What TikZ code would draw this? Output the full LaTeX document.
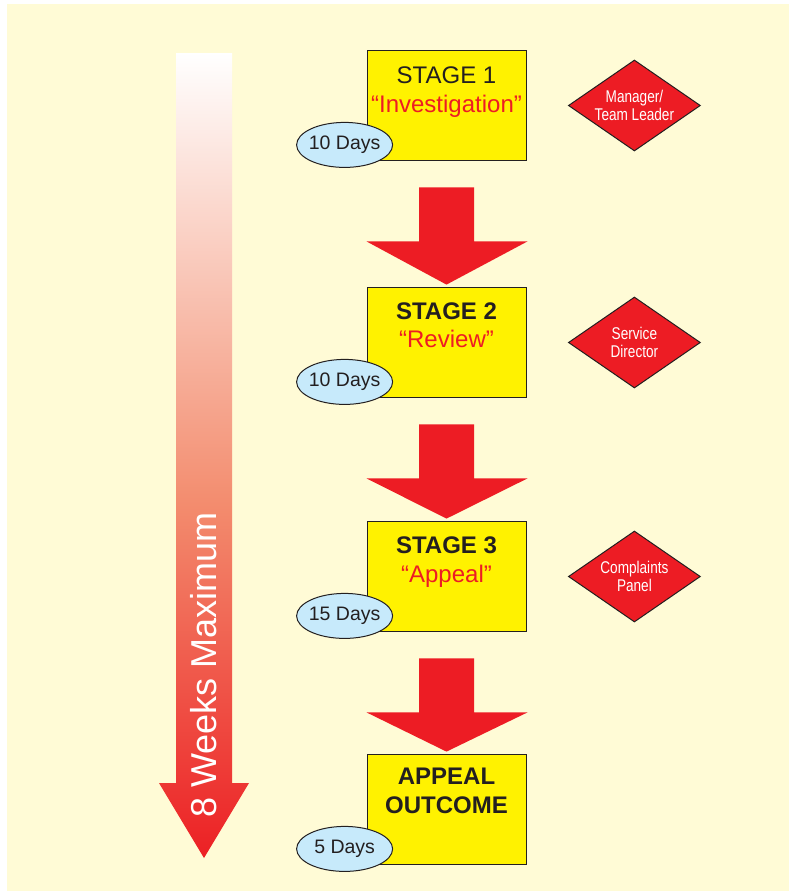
\documentclass[tikz,border=0pt]{standalone}
\usepackage{fontspec}
\setmainfont{Liberation Sans}
\newfontfamily\narrowfont[FakeStretch=0.8]{Liberation Sans}
\usetikzlibrary{shapes.geometric,calc}
\definecolor{bgcream}{RGB}{255,251,214}
\definecolor{boxyellow}{RGB}{255,242,0}
\definecolor{darkline}{RGB}{35,31,32}
\definecolor{redfill}{RGB}{237,28,36}
\definecolor{ovalblue}{RGB}{199,234,251}
\definecolor{gradmid}{RGB}{243,140,110}
\definecolor{gradred}{RGB}{236,32,36}
\pgfdeclareverticalshading{weekshade}{100bp}{color(0bp)=(gradred); color(25bp)=(gradred); color(47bp)=(gradmid); color(75bp)=(white); color(100bp)=(white)}
\begin{document}
\begin{tikzpicture}[x=1pt,y=-1pt,
  stagebox/.style={draw=darkline, line width=0.8pt, fill=boxyellow, minimum width=159pt, minimum height=110pt, inner sep=0pt},
  days/.style={ellipse, draw=darkline, line width=1pt, fill=ovalblue, minimum width=96pt, minimum height=45pt, inner sep=0pt},
  daystext/.style={inner sep=0pt, text=darkline, font=\fontsize{19.5}{22}\selectfont},
  role/.style={diamond, draw=darkline, line width=1pt, fill=redfill, minimum width=132pt, minimum height=91pt, inner sep=0pt},
  roletext/.style={text=white, align=center, inner sep=0pt, font=\narrowfont\fontsize{17}{18}\selectfont},
  stagetitle/.style={anchor=base, inner sep=0pt, text=darkline, font=\fontsize{24}{29}\selectfont},
  stagename/.style={anchor=base, inner sep=0pt, text=redfill, font=\fontsize{24}{29}\selectfont},
  blockarrow/.style={fill=redfill},
  weeks/.style={rotate=90, text=white, inner sep=0pt, font=\fontsize{36}{40}\selectfont}
]
\useasboundingbox (0,0) rectangle (789,892);
\fill[bgcream] (7,4) rectangle (789,891);

% timeline arrow
\shade[shading=weekshade] (176,53) -- (232,53) -- (232,783) -- (249,783) -- (204,858) -- (159,783) -- (176,783) -- cycle;
\node[weeks] (wk) at (204,665) {8 Weeks Maximum};

% stage boxes
\node[stagebox] (s1) at (446.5,105) {};
\node[stagebox] (s2) at (446.5,342) {};
\node[stagebox] (s3) at (446.5,576) {};
\node[stagebox] (s4) at (446.5,809) {};

\node[stagetitle] (s1a) at ($(s1.north)+(0,33.5)$) {STAGE 1};
\node[stagename]  (s1b) at ($(s1.north)+(0,62.5)$) {“Investigation”};
\node[stagetitle] (s2a) at ($(s2.north)+(0,32.5)$) {\bfseries STAGE 2};
\node[stagename]  (s2b) at ($(s2.north)+(0,60.5)$) {“Review”};
\node[stagetitle] (s3a) at ($(s3.north)+(0,32.5)$) {\bfseries STAGE 3};
\node[stagename]  (s3b) at ($(s3.north)+(0,61.5)$) {“Appeal”};
\node[stagetitle] (s4a) at ($(s4.north)+(0,30.5)$) {\bfseries APPEAL};
\node[stagetitle] (s4b) at ($(s4.north)+(0,59.5)$) {\bfseries OUTCOME};

% day ellipses
\node[days] (d1) at ($(s1.south west)+(-22,-15.5)$) {};
\node[days] (d2) at ($(s2.south west)+(-22,-15.5)$) {};
\node[days] (d3) at ($(s3.south west)+(-22,-15.5)$) {};
\node[days] (d4) at ($(s4.south west)+(-22,-15.5)$) {};
\node[daystext] (d1t) at (d1.center) {10 Days};
\node[daystext] (d2t) at (d2.center) {10 Days};
\node[daystext] (d3t) at (d3.center) {15 Days};
\node[daystext] (d4t) at (d4.center) {5 Days};

% role diamonds
\node[role] (r1) at ($(s1.east)+(108,0.5)$) {};
\node[role] (r2) at ($(s2.east)+(108,0.5)$) {};
\node[role] (r3) at ($(s3.east)+(108,0.5)$) {};
\node[roletext] (r1t) at (r1.center) {Manager/\\Team Leader};
\node[roletext] (r2t) at (r2.center) {Service\\Director};
\node[roletext] (r3t) at (r3.center) {Complaints\\Panel};

% block arrows between stages
\fill[blockarrow] ($(s1.south)+(-27.5,27)$) -- ($(s1.south)+(27.5,27)$) -- ($(s1.south)+(27.5,81)$) -- ($(s1.south)+(81,81)$) -- ($(s2.north)+(0,-2)$) -- ($(s1.south)+(-80,81)$) -- ($(s1.south)+(-27.5,81)$) -- cycle;
\fill[blockarrow] ($(s2.south)+(-27.5,27)$) -- ($(s2.south)+(27.5,27)$) -- ($(s2.south)+(27.5,81)$) -- ($(s2.south)+(81,81)$) -- ($(s3.north)+(0,-2)$) -- ($(s2.south)+(-80,81)$) -- ($(s2.south)+(-27.5,81)$) -- cycle;
\fill[blockarrow] ($(s3.south)+(-27.5,27)$) -- ($(s3.south)+(27.5,27)$) -- ($(s3.south)+(27.5,81)$) -- ($(s3.south)+(81,81)$) -- ($(s4.north)+(0,-2)$) -- ($(s3.south)+(-80,81)$) -- ($(s3.south)+(-27.5,81)$) -- cycle;
\end{tikzpicture}
\end{document}
